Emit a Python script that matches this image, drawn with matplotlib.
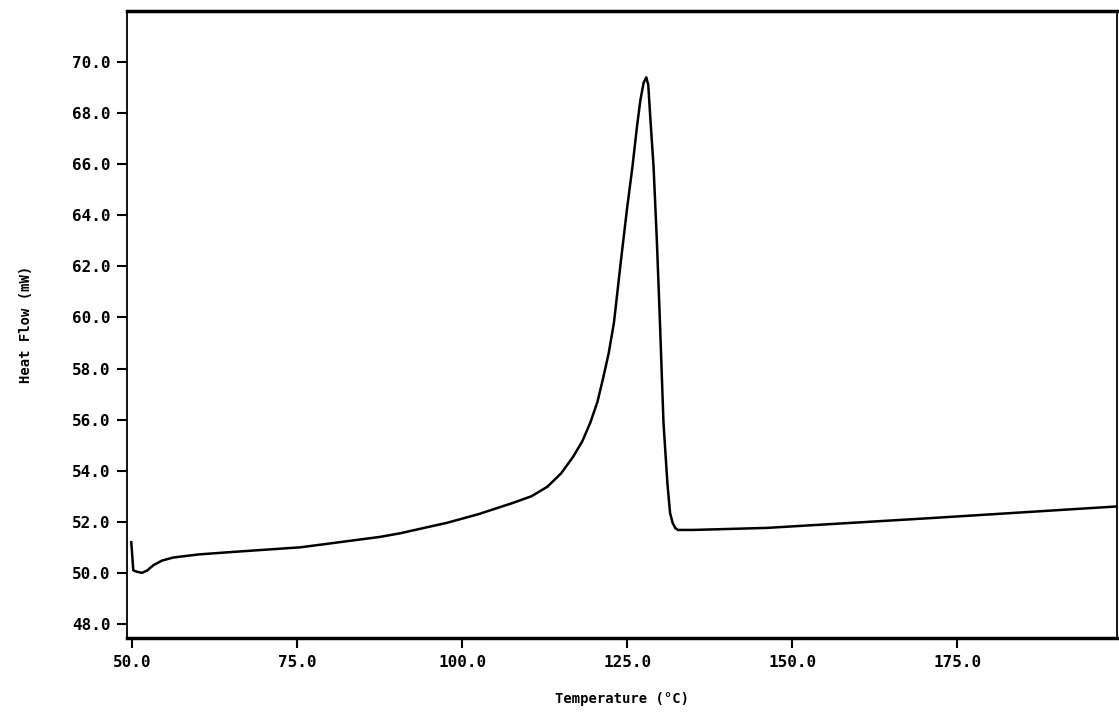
import matplotlib
matplotlib.use("Agg")
import matplotlib.pyplot as plt

# DSC trace (Temperature in C, heat flow in mW)
temperature = [49.85, 50.15, 50.6, 51.5, 52.3, 53.2, 54.5, 56.2, 60.0, 65.3,
               75.5, 87.6, 90.6, 97.7, 102.5, 107.7, 110.5, 112.9, 115.0, 116.8,
               118.2, 119.4, 120.5, 121.4, 122.2, 123.0, 124.0, 125.0, 125.8, 126.5,
               127.0, 127.5, 127.9, 128.2, 128.5, 129.0, 129.5, 129.9, 130.5, 131.1,
               131.5, 131.9, 132.3, 132.7, 135.0, 146.2, 171.4, 199.2]
heat_flow = [51.2, 50.1, 50.05, 50.0, 50.1, 50.3, 50.48, 50.6, 50.72, 50.82,
             51.0, 51.41, 51.55, 51.96, 52.3, 52.74, 53.0, 53.37, 53.9, 54.54,
             55.15, 55.87, 56.7, 57.67, 58.6, 59.8, 62.1, 64.3, 65.9, 67.5,
             68.5, 69.2, 69.4, 69.1, 67.85, 65.9, 63.0, 60.3, 55.9, 53.5,
             52.35, 51.95, 51.75, 51.68, 51.68, 51.76, 52.15, 52.6]

x_ticks = [50.0, 75.0, 100.0, 125.0, 150.0, 175.0]
y_ticks = [48.0, 50.0, 52.0, 54.0, 56.0, 58.0, 60.0, 62.0, 64.0, 66.0, 68.0, 70.0]

font = {"family": "DejaVu Sans Mono", "weight": "bold"}

fig = plt.figure(figsize=(11.19, 7.19), dpi=100)
ax = fig.add_axes([0.1135, 0.1127, 0.8845, 0.872])

ax.plot(temperature, heat_flow, color="black", lw=1.8)

ax.set_xlim(49.2, 199.2)
ax.set_ylim(47.45, 72.0)
ax.set_xticks(x_ticks)
ax.set_yticks(y_ticks)
ax.set_xticklabels([f"{t:.1f}" for t in x_ticks], fontdict=font, fontsize=11.5)
ax.set_yticklabels([f"{t:.1f}" for t in y_ticks], fontdict=font, fontsize=11.5)
ax.tick_params(direction="out", length=7, width=1.5, pad=5)

for side in ["top", "bottom"]:
    ax.spines[side].set_linewidth(2.5)
for side in ["left", "right"]:
    ax.spines[side].set_linewidth(1.3)

ax.set_xlabel("Temperature (°C)", fontdict=font, fontsize=10, labelpad=16)
ax.set_ylabel("Heat Flow (mW)", fontdict=font, fontsize=10, labelpad=28)

fig.savefig("out.png", dpi=100)
